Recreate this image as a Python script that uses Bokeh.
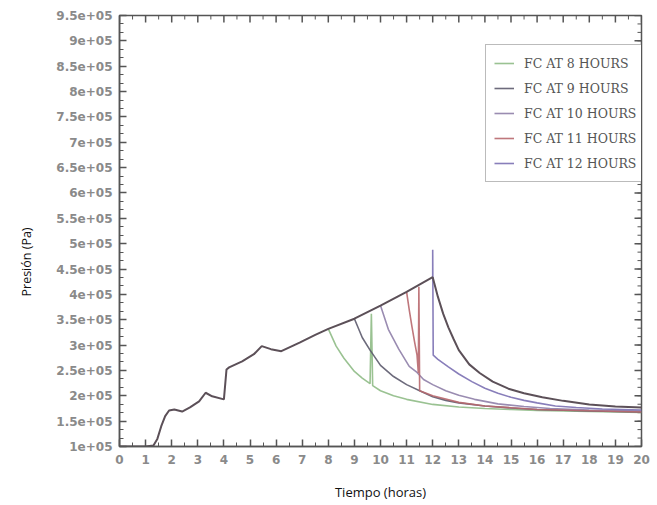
import math
from bokeh.plotting import figure
from bokeh.models import Range1d, FixedTicker, Legend, LegendItem, Title
from bokeh.embed import file_html
from bokeh.resources import INLINE

# ---------------- data (pressure in units of 1e5 Pa, time in hours) ----------------
x_tick_values = [0, 1, 2, 3, 4, 5, 6, 7, 8, 9, 10, 11, 12, 13, 14, 15, 16, 17, 18, 19, 20]
y_tick_values = [1.0e5, 1.5e5, 2.0e5, 2.5e5, 3.0e5, 3.5e5, 4.0e5, 4.5e5, 5.0e5,
                 5.5e5, 6.0e5, 6.5e5, 7.0e5, 7.5e5, 8.0e5, 8.5e5, 9.0e5, 9.5e5]
y_tick_labels = ["1e+05", "1.5e+05", "2e+05", "2.5e+05", "3e+05", "3.5e+05", "4e+05",
                 "4.5e+05", "5e+05", "5.5e+05", "6e+05", "6.5e+05", "7e+05", "7.5e+05",
                 "8e+05", "8.5e+05", "9e+05", "9.5e+05"]

# common pressure build-up (up to 12 h) and its natural decay afterwards
base_t = [0, 1.0, 1.3, 1.45, 1.6, 1.75, 1.9, 2.1, 2.4, 2.7, 3.05, 3.3, 3.55, 4.0, 4.1,
          4.2, 4.7, 5.15, 5.45, 5.8, 6.2, 6.9, 7.5, 8.0, 9.0, 10.0, 11.0, 12.0,
          12.2, 12.4, 12.6, 12.8, 13.0, 13.4, 13.8, 14.3, 14.9, 15.5, 16.2, 17.0, 18.0, 19.0, 20.0]
base_p = [1.0, 1.0, 1.02, 1.15, 1.4, 1.6, 1.71, 1.73, 1.69, 1.77, 1.89, 2.06, 1.99, 1.93, 2.52,
          2.56, 2.68, 2.82, 2.98, 2.92, 2.88, 3.05, 3.2, 3.32, 3.52, 3.78, 4.05, 4.34,
          3.95, 3.62, 3.35, 3.12, 2.9, 2.62, 2.45, 2.28, 2.14, 2.05, 1.97, 1.9, 1.83, 1.79, 1.77]

fc8_t = [8.0, 8.3, 8.6, 9.0, 9.3, 9.6, 9.65, 9.7, 10.0, 10.5, 11.0, 12.0, 13.0, 14.0, 15.0, 16.0, 18.0, 20.0]
fc8_p = [3.32, 2.98, 2.74, 2.48, 2.35, 2.24, 3.62, 2.2, 2.1, 2.0, 1.93, 1.83, 1.78, 1.75, 1.73, 1.71, 1.69, 1.67]

fc9_t = [9.0, 9.3, 9.6, 10.0, 10.5, 11.0, 11.5, 12.0, 12.5, 13.0, 14.0, 15.0, 16.0, 18.0, 20.0]
fc9_p = [3.52, 3.15, 2.9, 2.6, 2.38, 2.22, 2.1, 1.98, 1.91, 1.86, 1.8, 1.76, 1.73, 1.7, 1.68]

fc10_t = [10.0, 10.3, 10.7, 11.1, 11.4, 11.65, 12.0, 12.5, 13.0, 13.6, 14.5, 15.5, 16.5, 18.0, 20.0]
fc10_p = [3.78, 3.31, 2.92, 2.58, 2.46, 2.32, 2.22, 2.1, 2.01, 1.93, 1.84, 1.79, 1.75, 1.72, 1.7]

fc11_t = [11.0, 11.1, 11.2, 11.3, 11.4, 11.45, 11.47, 11.5, 12.0, 13.0, 14.0, 16.0, 20.0]
fc11_p = [4.05, 3.7, 3.38, 3.08, 2.8, 2.45, 4.15, 2.1, 2.0, 1.87, 1.8, 1.73, 1.68]

fc12_t = [12.0, 12.0, 12.02, 12.2, 12.6, 13.0, 13.5, 14.0, 14.5, 15.0, 15.5, 16.0, 16.7, 17.5, 18.5, 20.0]
fc12_p = [4.34, 4.88, 2.8, 2.72, 2.57, 2.43, 2.28, 2.15, 2.05, 1.97, 1.91, 1.86, 1.8, 1.77, 1.74, 1.72]

series_labels = ["FC AT 8 HOURS", "FC AT 9 HOURS", "FC AT 10 HOURS", "FC AT 11 HOURS", "FC AT 12 HOURS"]
series_colors = ["#8fbb86", "#5d5b6e", "#8f80a8", "#b8686e", "#7b70b2"]
series_t = [fc8_t, fc9_t, fc10_t, fc11_t, fc12_t]
series_p = [fc8_p, fc9_p, fc10_p, fc11_p, fc12_p]
base_color = "#5c5058"

x_min, x_max = 0, 20
y_min, y_max = 1e5, 9.5e5

# ---------------- figure ----------------
p = figure(width=653, height=503, output_backend="svg", toolbar_location=None,
           x_range=Range1d(x_min, x_max), y_range=Range1d(y_min, y_max),
           min_border_left=117, min_border_right=12, min_border_top=15, min_border_bottom=56,
           background_fill_color="white", border_fill_color="white")
p.xgrid.visible = False
p.ygrid.visible = False
p.outline_line_color = "#555555"
p.outline_line_width = 1.5

x_minor = [i + 0.5 for i in range(20)]
y_minor = [1e5 + k * 0.5e5 / 3 for k in range(52)]
xt = FixedTicker(ticks=x_tick_values, minor_ticks=x_minor)
yt = FixedTicker(ticks=y_tick_values, minor_ticks=y_minor)

label_font = "DejaVu Sans"
tick_col = "#555555"


def style_axis(ax):
    ax.axis_line_color = tick_col
    ax.axis_line_width = 1.5
    ax.major_tick_in = 7
    ax.major_tick_out = 0
    ax.minor_tick_in = 4
    ax.minor_tick_out = 0
    ax.major_tick_line_color = tick_col
    ax.minor_tick_line_color = tick_col
    ax.major_tick_line_width = 1.5
    ax.minor_tick_line_width = 1
    ax.major_label_text_font = label_font
    ax.major_label_text_font_style = "bold"
    ax.major_label_text_color = "#8a8a8a"
    ax.major_label_text_font_size = "12px"


xa = p.xaxis[0]
xa.ticker = xt
style_axis(xa)
xa.major_label_standoff = 8
xa.axis_label = "Tiempo (horas)"
xa.axis_label_text_font = "Open Sans"
xa.axis_label_text_font_style = "normal"
xa.axis_label_text_font_size = "13px"
xa.axis_label_text_color = "#111111"
xa.axis_label_standoff = 16

ya = p.yaxis[0]
ya.ticker = yt
style_axis(ya)
ya.major_label_standoff = 7
ya.major_label_overrides = {v: s for v, s in zip(y_tick_values, y_tick_labels)}

# inward ticks on the top and right edges (dash markers, half clipped by the frame)
p.scatter(x_tick_values, [y_max] * len(x_tick_values), marker="dash", size=14, angle=math.pi / 2,
          line_color=tick_col, line_width=1.5)
p.scatter(x_minor, [y_max] * len(x_minor), marker="dash", size=8, angle=math.pi / 2,
          line_color=tick_col, line_width=1)
p.scatter([x_max] * len(y_tick_values), y_tick_values, marker="dash", size=14,
          line_color=tick_col, line_width=1.5)
p.scatter([x_max] * len(y_minor), y_minor, marker="dash", size=8,
          line_color=tick_col, line_width=1)

ytitle = Title(text="Presión (Pa)", align="left", offset=150, standoff=34,
               vertical_align="top",
               text_font="Open Sans", text_font_size="12.5px", text_font_style="normal",
               text_color="#111111")
p.add_layout(ytitle, "left")

# ---------------- lines ----------------
items = []
for lab, col, ts, ps in zip(series_labels, series_colors, series_t, series_p):
    r = p.line([t for t in ts], [v * 1e5 for v in ps], line_color=col, line_width=1.6, line_alpha=0.9)
    items.append(LegendItem(label=lab, renderers=[r]))

p.line(base_t, [v * 1e5 for v in base_p], line_color=base_color, line_width=2.0)

legend = Legend(items=items, location=(366, 264), padding=8, spacing=5,
                label_height=20, glyph_height=20, glyph_width=20, label_standoff=10,
                label_text_font="DejaVu Serif", label_text_font_size="12.5px",
                label_text_color="#555555", border_line_color="#777777",
                border_line_width=1.5, background_fill_color="white", background_fill_alpha=1.0,
                margin=0)
p.add_layout(legend, "center")

open("out.html", "w").write(file_html(p, INLINE))
